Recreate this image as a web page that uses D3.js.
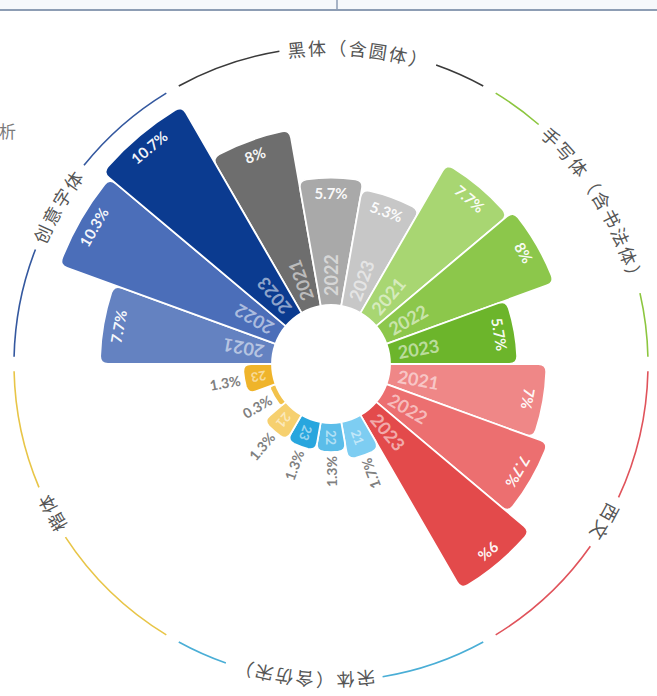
<!DOCTYPE html>
<html><head><meta charset="utf-8">
<script src="https://cdn.jsdelivr.net/npm/d3@7"></script>
<style>
html,body{margin:0;padding:0;background:#fff;}
svg{display:block;}
</style></head>
<body>
<svg id="chart" width="657" height="696"></svg>
<script>
// ---- data ----
const categories = ["黑体（含圆体）", "手写体（含书法体）", "西文", "宋体（含仿宋）", "楷体", "创意字体"];
const years = ["2021", "2022", "2023"];
const values2021 = [8, 7.7, 7, 1.7, 1.3, 7.7];
const values2022 = [5.7, 8, 7.7, 1.3, 0.3, 10.3];
const values2023 = [5.3, 5.7, 9, 1.3, 1.3, 10.7];

// ---- styles ----
const barColors = [
  ["#6e6e6e", "#a9a9a9", "#c7c7c7"],
  ["#a8d672", "#8cc74b", "#6cb52b"],
  ["#ef8787", "#ec6f70", "#e34a4b"],
  ["#7dcdf2", "#5bbde9", "#28a6de"],
  ["#f6d06f", "#f2c24b", "#efb42b"],
  ["#6482c1", "#4b6eb9", "#0b3b90"]
];
const ringColors = ["#3a3a3a", "#8cc63f", "#e0535b", "#4aaed6", "#e8c547", "#34589f"];
const labelShift = [5, -1, 0, 5, 2, 0]; // degrees, label placement on the ring

const W = 657, H = 696, cx = 331, cy = 364;
const innerR = 59, ringR = 317;
const svg = d3.select("#chart");

// top frame fragment
svg.append("rect").attr("x", 0).attr("y", 0).attr("width", W).attr("height", 10).attr("fill", "#f6f8fb");
svg.append("line").attr("x1", 0).attr("x2", W).attr("y1", 10).attr("y2", 10).attr("stroke", "#8d9db4").attr("stroke-width", 2);
svg.append("line").attr("x1", 337).attr("x2", 337).attr("y1", 0).attr("y2", 10).attr("stroke", "#8d9db4").attr("stroke-width", 1.5);
svg.append("text").attr("x", 16).attr("y", 138).attr("text-anchor", "end")
  .attr("font-family", "Noto Sans CJK SC").attr("font-size", 17).attr("fill", "#7a7a7a").text("析");

// ---- build rows ----
const seriesVals = [values2021, values2022, values2023];
const rows = [];
categories.forEach((c, i) => {
  years.forEach((y, j) => {
    rows.push({ key: c + "|" + y, cat: i, yi: j, year: y, value: seriesVals[j][i] });
  });
});

const a0 = -Math.PI / 6;
const angle = d3.scaleBand().domain(rows.map(d => d.key)).range([a0, a0 + 2 * Math.PI]).padding(0);
const radius = d3.scaleLinear().domain([0, 10.7]).range([innerR, 298]);

const g = svg.append("g").attr("transform", `translate(${cx},${cy})`);

function pt(a, r) { return [r * Math.sin(a), -r * Math.cos(a)]; }
function barPath(s, e, r0, r1, cr) {
  const p = d3.path();
  const c = Math.min(cr, (r1 - r0) / 2, r1 * (e - s) / 2);
  const da = c / r1;
  let [x, y] = pt(s, r0); p.moveTo(x, y);
  [x, y] = pt(s, r1 - c); p.lineTo(x, y);
  let [qx, qy] = pt(s, r1); [x, y] = pt(s + da, r1); p.quadraticCurveTo(qx, qy, x, y);
  p.arc(0, 0, r1, s + da - Math.PI / 2, e - da - Math.PI / 2, false);
  [qx, qy] = pt(e, r1); [x, y] = pt(e, r1 - c); p.quadraticCurveTo(qx, qy, x, y);
  [x, y] = pt(e, r0); p.lineTo(x, y);
  p.arc(0, 0, r0, e - Math.PI / 2, s - Math.PI / 2, true);
  p.closePath();
  return p.toString();
}

// bars
g.selectAll("path.bar").data(rows).join("path").attr("class", "bar")
  .attr("d", d => barPath(angle(d.key), angle(d.key) + angle.bandwidth(), innerR, radius(d.value), 8))
  .attr("fill", d => barColors[d.cat][d.yi])
  .attr("stroke", "#fff").attr("stroke-width", 1.8).attr("stroke-linejoin", "round");

const deg = a => a * 180 / Math.PI;
const mid = d => angle(d.key) + angle.bandwidth() / 2;
const numFont = "Lato, 'Open Sans', sans-serif";
const big = d => d.value >= 3;

// year labels
g.selectAll("text.year").data(rows.filter(d => d.value >= 1)).join("text").attr("class", "year")
  .attr("transform", d => big(d)
      ? `rotate(${deg(mid(d))}) translate(0,${-(innerR + 9)}) rotate(-90)`
      : `rotate(${deg(mid(d))}) translate(0,${-(innerR + radius(d.value)) / 2}) rotate(-90)`)
  .attr("text-anchor", d => big(d) ? "start" : "middle")
  .attr("dominant-baseline", "central")
  .attr("font-family", numFont).attr("font-weight", 700)
  .attr("font-size", d => big(d) ? 18 : 13)
  .attr("fill", "#fff").attr("fill-opacity", 0.55)
  .text(d => big(d) ? d.year : d.year.slice(2));

// value labels
g.selectAll("text.val").data(rows).join("text").attr("class", "val")
  .attr("transform", d => big(d)
      ? `rotate(${deg(mid(d))}) translate(0,${-(radius(d.value) - 15)})`
      : `rotate(${deg(mid(d))}) translate(0,${-(radius(d.value) + 4)}) rotate(90)`)
  .attr("text-anchor", d => big(d) ? "middle" : "end")
  .attr("dominant-baseline", "central")
  .attr("font-family", numFont).attr("font-weight", 700)
  .attr("font-size", d => big(d) ? 15 : 14)
  .attr("fill", d => big(d) ? "#fff" : "#808080")
  .attr("fill-opacity", d => big(d) ? 0.95 : 1)
  .text(d => d.value + "%");

// ---- outer ring with category labels ----
const startDeg = 150;
const ringPath = d3.path();
{
  const s = startDeg * Math.PI / 180 - Math.PI / 2;
  ringPath.moveTo(ringR * Math.cos(s), ringR * Math.sin(s));
  ringPath.arc(0, 0, ringR, s, s + Math.PI, false);
  ringPath.arc(0, 0, ringR, s + Math.PI, s + 2 * Math.PI, false);
}
g.append("path").attr("id", "ringPath").attr("d", ringPath.toString()).attr("fill", "none").attr("stroke", "none");

const catInfo = categories.map((c, i) => ({ name: c, i, s: -30 + 60 * i, e: 30 + 60 * i, m: 60 * i + labelShift[i] }));
const labels = g.selectAll("text.cat").data(catInfo).join("text").attr("class", "cat")
  .attr("font-family", "'Noto Sans CJK SC', sans-serif").attr("font-size", 18)
  .attr("letter-spacing", 2.5)
  .attr("fill", "#555").attr("dominant-baseline", "central");
labels.append("textPath").attr("href", "#ringPath")
  .attr("startOffset", d => ringR * (((d.m - startDeg) % 360 + 360) % 360) * Math.PI / 180)
  .attr("text-anchor", "middle")
  .text(d => d.name);

labels.each(function (d) { d.half = deg(this.getComputedTextLength() / 2 / ringR); });

const segs = [];
catInfo.forEach(d => {
  const gapB = 1.3, gapL = 1.4;
  segs.push({ i: d.i, s: d.s + gapB, e: d.m - d.half - gapL });
  segs.push({ i: d.i, s: d.m + d.half + gapL, e: d.e - gapB });
});
g.selectAll("path.ring").data(segs.filter(d => d.e > d.s)).join("path").attr("class", "ring")
  .attr("d", d => {
    const p = d3.path();
    const s = d.s * Math.PI / 180 - Math.PI / 2, e = d.e * Math.PI / 180 - Math.PI / 2;
    p.moveTo(ringR * Math.cos(s), ringR * Math.sin(s));
    p.arc(0, 0, ringR, s, e, false);
    return p.toString();
  })
  .attr("fill", "none").attr("stroke", d => ringColors[d.i]).attr("stroke-width", 1.6);
</script>
</body></html>
